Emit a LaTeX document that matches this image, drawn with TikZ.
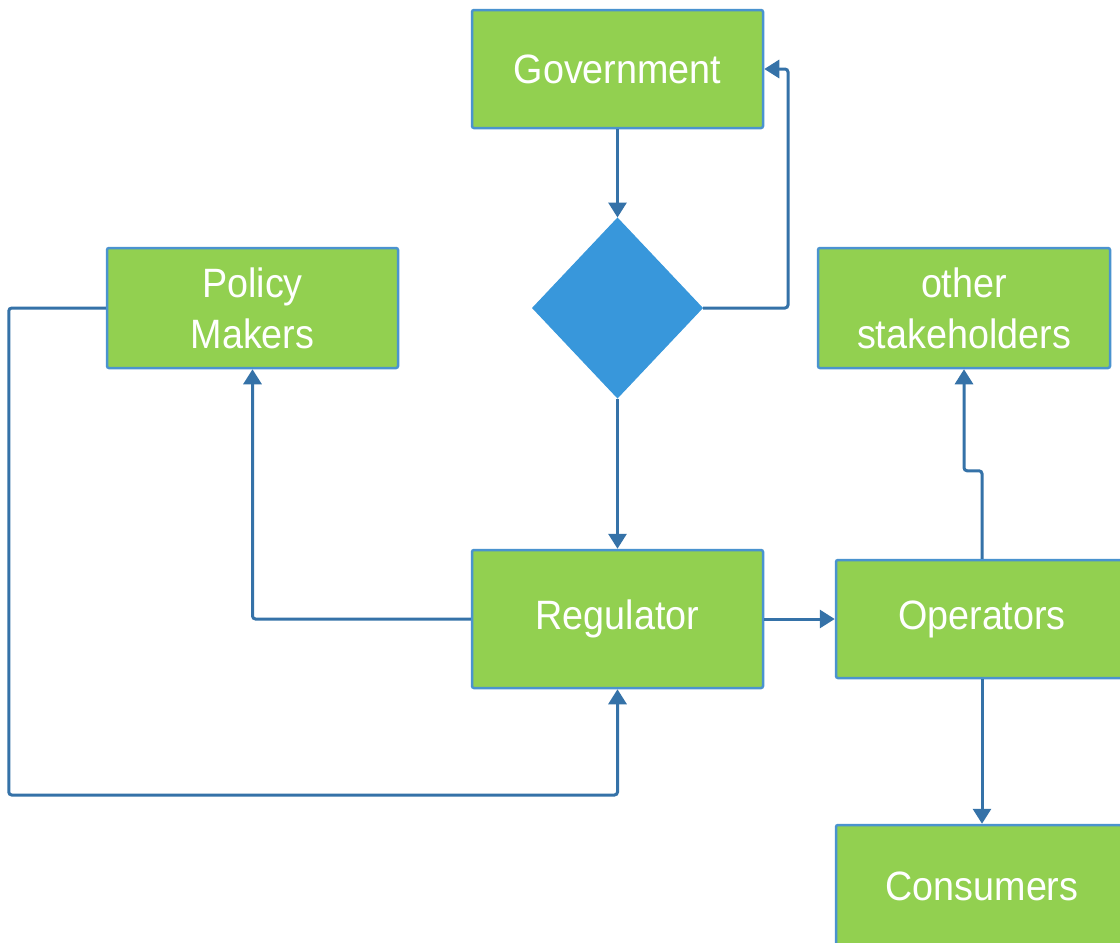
\documentclass[tikz,border=0pt]{standalone}
\usepackage{fontspec}
\setmainfont{Liberation Sans}
\newfontfamily\boxfont[FakeStretch=0.92]{Liberation Sans}
\usetikzlibrary{shapes.geometric,arrows.meta}
\definecolor{boxgreen}{HTML}{92D050}
\definecolor{boxedge}{HTML}{4A93CF}
\definecolor{linkblue}{HTML}{3572A8}
\definecolor{diamondblue}{HTML}{3897DB}
\begin{document}
\begin{tikzpicture}[x=1pt,y=-1pt,
  box/.style={draw=boxedge, line width=2.5pt, fill=boxgreen, rounded corners=2pt,
    text=white, font=\boxfont\fontsize{41}{51}\selectfont, align=center, inner sep=0pt},
  link/.style={draw=linkblue, line width=3pt, rounded corners=3pt,
    -{Triangle[length=15pt,width=18pt]}}]
\clip (0,0) rectangle (1120,943);
\fill[white] (0,0) rectangle (1120,943);

% boxes
\node[box, minimum width=291pt, minimum height=118pt] (gov) at (617.5,69) {Government};
\node[diamond, fill=diamondblue, draw=diamondblue, line width=1pt,
      minimum width=170pt, minimum height=180pt, inner sep=0pt] (dec) at (617.5,308) {};
\node[box, minimum width=291pt, minimum height=120pt] (pol) at (252.5,308) {Policy\\Makers};
\node[box, minimum width=292pt, minimum height=120pt] (stake) at (964,308) {other\\stakeholders};
\node[box, minimum width=291pt, minimum height=138pt] (reg) at (617.5,619) {Regulator};
\node[box, minimum width=292pt, minimum height=118pt] (op) at (982,619) {Operators};
\node[box, minimum width=292pt, minimum height=122pt] (cons) at (982,886) {Consumers};

% connectors
\draw[link] (gov) -- (dec);
\draw[link] (dec.east) -- ++(85,0) |- (gov.east);
\draw[link] (dec) -- (reg);
\draw[link] (reg.west) -| (pol.south);
\draw[link] (pol.west) -- ++(-97,0) -- ++(0,487) -| (reg.south);
\draw[link] (reg) -- (op);
\draw[link] (op.north) -- ++(0,-88) -| (stake.south);
\draw[link] (op) -- (cons);
\end{tikzpicture}
\end{document}
